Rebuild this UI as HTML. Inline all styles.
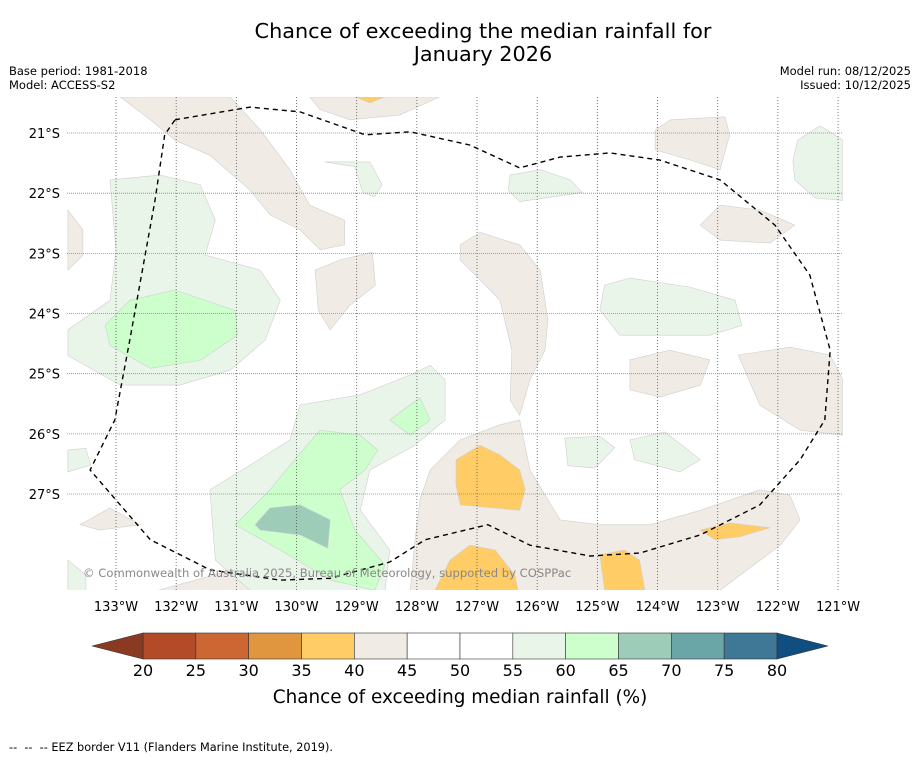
<!DOCTYPE html>
<html><head><meta charset="utf-8"><style>
body{margin:0;background:#fff;font-family:"Liberation Sans","DejaVu Sans",sans-serif}
svg text{font-family:"DejaVu Sans","Liberation Sans",sans-serif}
</style></head><body>
<svg id="chart" width="919" height="758" xmlns="http://www.w3.org/2000/svg">
<text x="483" y="38" text-anchor="middle" font-size="20.8">Chance of exceeding the median rainfall for</text>
<text x="483" y="61" text-anchor="middle" font-size="20.8">January 2026</text>
<text x="9" y="75" font-size="11.5">Base period: 1981-2018</text>
<text x="9" y="89" font-size="11.5">Model: ACCESS-S2</text>
<text x="911" y="75" font-size="11.5" text-anchor="end">Model run: 08/12/2025</text>
<text x="911" y="89" font-size="11.5" text-anchor="end">Issued: 10/12/2025</text>
<defs><clipPath id="mapclip"><rect x="67" y="97" width="776" height="493"/></clipPath></defs>
<g id="map" clip-path="url(#mapclip)"></g>
<g id="axes"></g>
<text x="83" y="577" font-size="11.6" fill="#888">© Commonwealth of Australia 2025, Bureau of Meteorology, supported by COSPPac</text>
<g id="cbar"></g>
<text x="460" y="703" text-anchor="middle" font-size="18.4">Chance of exceeding median rainfall (%)</text>
<text x="9" y="751" font-size="11.3" style="white-space:pre">--  --  -- EEZ border V11 (Flanders Marine Institute, 2019).</text>
</svg>
<script>
const lonTicks=[133,132,131,130,129,128,127,126,125,124,123,122,121];
const latTicks=[21,22,23,24,25,26,27];
const cbarEdges=[20,25,30,35,40,45,50,55,60,65,70,75,80];
const cbarColors=["#b34a28","#cc6633","#e0963f","#ffcc66","#f0ebe4","#ffffff","#ffffff","#eaf5ea","#ccffcc","#9dcdb8","#6aa5a8","#3f7896"];
const c4045="#f0ebe4",c3540="#ffcc66",c5560="#eaf5ea",c6065="#ccffcc",c6570="#9dcdb8";
const regions=[
 [c4045,[[132.93,20.4],[131.1,20.4],[130.6,20.95],[130.11,21.61],[129.78,22.2],[129.2,22.45],[129.2,22.86],[129.61,22.94],[129.94,22.61],[130.44,22.36],[130.77,21.95],[131.44,21.37],[132.02,21.12],[132.43,20.78]]],
 [c4045,[[129.78,20.4],[127.62,20.4],[128.28,20.7],[129.11,20.78],[129.61,20.61]]],
 [c4045,[[129.69,23.28],[129.28,23.11],[128.74,22.98],[128.69,23.53],[129.11,23.86],[129.44,24.27],[129.64,23.94]]],
 [c4045,[[127.28,22.86],[126.95,22.65],[126.29,22.86],[125.95,23.28],[125.82,24.11],[125.87,24.61],[126.12,25.1],[126.29,25.69],[126.45,25.44],[126.42,24.61],[126.62,23.78],[126.95,23.44],[127.28,23.11]]],
 [c4045,[[128.11,28.6],[128.03,27.76],[127.95,27.1],[127.78,26.6],[127.28,26.1],[126.62,25.85],[126.29,25.77],[126.12,26.6],[125.62,27.43],[124.96,27.51],[124.13,27.51],[123.29,27.27],[122.3,26.93],[121.8,27.02],[121.63,27.43],[121.96,27.85],[122.63,28.35],[122.96,28.6]]],
 [c4045,[[124.04,20.95],[123.78,20.78],[122.88,20.73],[122.8,21.03],[122.96,21.61],[123.45,21.45],[124.04,21.28]]],
 [c4045,[[123.29,22.53],[122.96,22.2],[122.3,22.28],[121.72,22.53],[122.13,22.83],[122.96,22.78]]],
 [c4045,[[124.46,24.77],[123.8,24.61],[123.13,24.77],[123.29,25.19],[123.96,25.39],[124.46,25.27]]],
 [c4045,[[122.66,24.69],[121.8,24.56],[121.13,24.69],[120.92,25.1],[120.92,26.02],[121.63,25.94],[122.3,25.52]]],
 [c4045,[[133.8,22.28],[133.55,22.61],[133.55,23.03],[133.8,23.28]]],
 [c4045,[[133.6,27.51],[133.1,27.23],[132.6,27.51],[133.27,27.6]]],
 [c4045,[[132.3,28.6],[131.2,28.3],[130.0,28.45],[129.7,28.6]]],
 [c3540,[[127.35,26.43],[126.95,26.19],[126.62,26.35],[126.29,26.6],[126.2,26.93],[126.29,27.27],[127.28,27.18],[127.35,26.85]]],
 [c3540,[[127.7,28.6],[127.45,28.1],[127.12,27.85],[126.7,27.93],[126.37,28.35],[126.32,28.6]]],
 [c3540,[[124.96,28.01],[124.55,27.93],[124.3,28.1],[124.21,28.6],[124.88,28.6]]],
 [c3540,[[123.29,27.6],[122.8,27.48],[122.13,27.56],[122.63,27.71],[123.04,27.76]]],
 [c3540,[[129.03,20.4],[128.53,20.4],[128.78,20.5]]],
 [c5560,[[133.1,21.78],[132.27,21.7],[131.6,21.86],[131.35,22.45],[131.52,23.03],[130.6,23.28],[130.27,23.78],[130.52,24.44],[131.1,24.94],[131.94,25.19],[132.93,25.19],[133.8,24.7],[133.8,24.27],[133.1,23.78],[133.0,22.95]]],
 [c5560,[[131.44,26.93],[130.77,26.52],[130.11,26.1],[129.94,25.52],[128.94,25.35],[128.11,25.02],[127.78,24.86],[127.53,25.1],[127.53,25.77],[128.03,26.19],[128.78,26.6],[128.94,27.27],[128.45,27.93],[128.53,28.6],[130.77,28.6],[131.35,28.1]]],
 [c5560,[[129.53,21.48],[128.78,21.48],[128.58,21.86],[128.7,22.06],[128.9,21.99],[129.03,21.56]]],
 [c5560,[[126.45,21.7],[125.95,21.61],[125.45,21.78],[125.25,21.99],[126.29,22.14],[126.48,21.95]]],
 [c5560,[[121.67,21.12],[121.3,20.88],[120.92,21.12],[120.92,22.12],[121.38,22.08],[121.72,21.78],[121.75,21.45]]],
 [c5560,[[124.88,23.53],[124.46,23.41],[123.47,23.56],[122.71,23.78],[122.6,24.2],[123.13,24.36],[124.63,24.36],[124.96,23.94]]],
 [c5560,[[124.46,26.1],[123.88,25.97],[123.29,26.43],[123.63,26.63],[124.38,26.43]]],
 [c5560,[[125.54,26.07],[124.96,26.04],[124.71,26.23],[125.04,26.57],[125.49,26.53]]],
 [c5560,[[133.8,26.27],[133.5,26.24],[133.42,26.52],[133.8,26.63]]],
 [c5560,[[133.8,28.1],[133.5,28.35],[133.5,28.6],[133.8,28.6]]],
 [c6065,[[133.18,24.19],[132.77,23.78],[132.02,23.61],[131.02,23.95],[130.98,24.36],[131.6,24.78],[132.43,24.91],[133.1,24.53]]],
 [c6065,[[131.02,27.51],[130.44,26.93],[130.03,26.43],[129.61,25.94],[128.94,26.02],[128.65,26.27],[128.86,26.6],[129.28,26.93],[129.03,27.6],[128.53,28.18],[128.7,28.6],[129.44,28.43],[130.27,27.93]]],
 [c6065,[[128.45,25.77],[127.95,25.4],[127.78,25.77],[128.11,26.02]]],
 [c6570,[[130.69,27.51],[130.44,27.23],[129.94,27.18],[129.44,27.43],[129.48,27.9],[129.94,27.68],[130.6,27.6]]]
];
const eez=[[132.02,20.78],[130.77,20.57],[129.94,20.65],[128.86,21.03],[128.11,20.98],[127.12,21.2],[126.29,21.58],[125.62,21.4],[124.79,21.33],[123.96,21.45],[122.96,21.78],[122.05,22.53],[121.47,23.36],[121.13,24.61],[121.22,25.77],[121.63,26.43],[122.3,27.18],[123.29,27.68],[124.29,27.98],[125.12,28.03],[126.12,27.85],[126.82,27.51],[127.86,27.76],[128.45,28.13],[129.44,28.4],[130.27,28.43],[131.44,28.26],[132.43,27.76],[133.43,26.6],[133.02,25.77],[132.77,24.44],[132.35,22.11],[132.19,21.03],[132.02,20.78]];
const NS="http://www.w3.org/2000/svg";
const X=lon=>116+(133-lon)*60.17, Y=lat=>133+(lat-21)*60.17;
const cx=v=>143+(v-20)/60*634;
function mk(tag,attrs,parent){const e=document.createElementNS(NS,tag);for(const k in attrs)e.setAttribute(k,attrs[k]);parent.appendChild(e);return e;}
const map=document.getElementById('map'),axes=document.getElementById('axes'),cb=document.getElementById('cbar');
regions.forEach((r,i)=>{const p=mk('polygon',{points:r[1].map(q=>X(q[0]).toFixed(1)+','+Y(q[1]).toFixed(1)).join(' '),fill:r[0],stroke:'#cfcfcf','stroke-width':0.6},map);

});
lonTicks.forEach(l=>{const ln=mk('line',{x1:X(l),x2:X(l),y1:97,y2:590,stroke:'#555','stroke-width':0.8,'stroke-dasharray':'1,2'},map);


const t=mk('text',{x:X(l),y:611,'text-anchor':'middle','font-size':13},axes);t.textContent=l+'°W';

});
latTicks.forEach(l=>{const ln=mk('line',{x1:67,x2:843,y1:Y(l),y2:Y(l),stroke:'#888','stroke-width':0.8,'stroke-dasharray':'1,1'},map);


const t=mk('text',{x:60,y:Y(l)+5,'text-anchor':'end','font-size':13},axes);t.textContent=l+'°S';

});
const e=mk('polyline',{points:eez.map(q=>X(q[0]).toFixed(1)+','+Y(q[1]).toFixed(1)).join(' '),fill:'none',stroke:'#000','stroke-width':1.4,'stroke-dasharray':'5,4'},map);


cbarColors.forEach((c,i)=>{const r=mk('rect',{x:cx(cbarEdges[i]),y:633,width:cx(cbarEdges[i+1])-cx(cbarEdges[i]),height:26,fill:c,stroke:'#333','stroke-width':0.6},cb);

});
const tl=mk('polygon',{points:`${cx(20)},633 92,646 ${cx(20)},659`,fill:'#8b3a22',stroke:'#333','stroke-width':0.6},cb);


const tr=mk('polygon',{points:`${cx(80)},633 828,646 ${cx(80)},659`,fill:'#0f4e80',stroke:'#333','stroke-width':0.6},cb);


cbarEdges.forEach(v=>{const t=mk('text',{x:cx(v),y:676,'text-anchor':'middle','font-size':16},cb);t.textContent=v;

});
</script>
</body></html>
